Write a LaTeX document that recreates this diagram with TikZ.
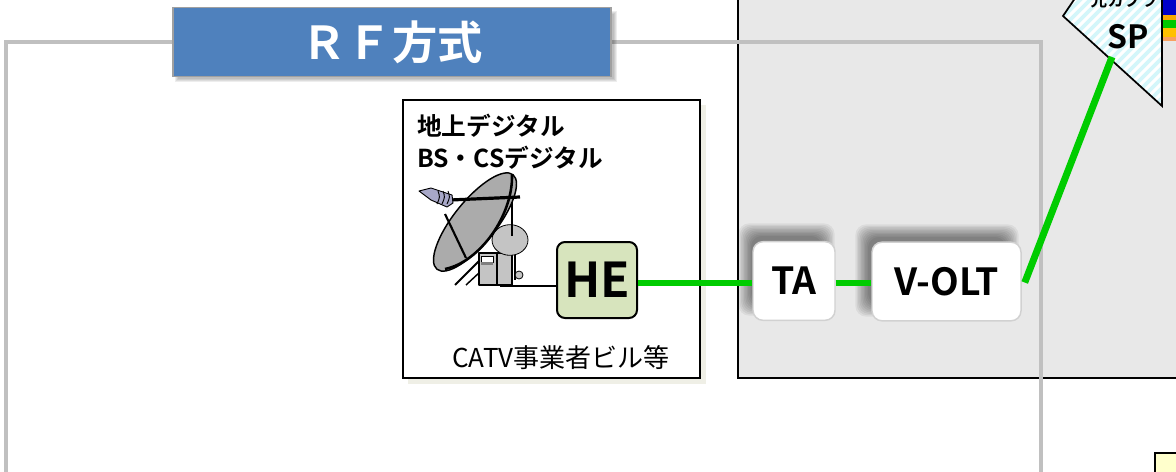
\documentclass[tikz,border=0pt]{standalone}
\usepackage{fontspec}
\setmainfont{Noto Sans CJK JP}[BoldFont={Noto Sans CJK JP Bold}]
\usetikzlibrary{calc}

\definecolor{titleblue}{HTML}{4F81BD}
\definecolor{titleedge}{HTML}{A0A0A0}
\definecolor{framegray}{HTML}{C0C0C0}
\definecolor{zonegray}{HTML}{E8E8E8}
\definecolor{hegreen}{HTML}{D7E4BD}
\definecolor{fibre}{HTML}{00CC00}
\definecolor{dishgray}{HTML}{ABABAB}
\definecolor{postgray}{HTML}{C4C4C4}
\definecolor{hornpurple}{HTML}{A8A8C8}
\definecolor{spstripe}{HTML}{D4F6FA}
\definecolor{boxshade}{HTML}{EFEFE6}
\definecolor{noteyellow}{HTML}{FFFFCC}
\definecolor{bandblue}{HTML}{0000C8}
\definecolor{bandorange}{HTML}{F9A800}
\definecolor{bandgreen}{HTML}{00C800}
\definecolor{bandyellow}{HTML}{FFC000}
\definecolor{bandsalmon}{HTML}{F8A060}

% soft shadow built from stacked translucent rounded rectangles
% #1-#4 corners, #5 corner radius, #6 opacity per layer, #7 layers, #8 growth per layer
\newcommand\softshade[8]{%
  \foreach \k in {0,...,#7}{%
    \fill[black, opacity=#6, rounded corners=#5]
      ({#1-#8*\k},{#2-#8*\k}) rectangle ({#3+#8*\k},{#4+#8*\k});
  }%
}

\tikzset{
  frameline/.style={draw=framegray, line width=2.3pt},
  fibreline/.style={draw=fibre, line width=5.2pt},
  titlebox/.style={draw=titleedge, line width=1.3pt, fill=titleblue,
    minimum width=328.5pt, minimum height=51.75pt, inner sep=0pt,
    text=white, font=\bfseries\fontsize{34}{36}\selectfont},
  hebox/.style={draw=black, line width=1.5pt, fill=hegreen, rounded corners=6pt,
    minimum width=60pt, minimum height=57pt, inner sep=0pt,
    font=\bfseries\fontsize{36}{38}\selectfont},
  unitbox/.style={draw=black!18, line width=1.1pt, fill=white, rounded corners=7.5pt,
    minimum height=59pt, inner sep=0pt,
    font=\bfseries\fontsize{28}{30}\selectfont},
  label/.style={inner sep=0pt, font=\bfseries\fontsize{18.5}{20}\selectfont},
}

\begin{document}
\begin{tikzpicture}[x=0.75pt, y=-0.75pt]
\useasboundingbox (0,0) rectangle (1176,471);
\clip (0,0) rectangle (1176,471);

% head-end building
\fill[boxshade] (408,105) rectangle (706,384);
\draw[fill=white, line width=1pt] (403,100) rectangle (700,378);

% subscriber-side area
\draw[fill=zonegray, line width=1pt] (738,-10) rectangle (1200,378);

% grouping frame
\draw[frameline] (6,490) -- (6,42) -- (1041,42) -- (1041,490);

% title
\softshade{178}{14}{614}{79}{0pt}{0.07}{3}{1}
\node[titlebox] (title) at (392,42) {ＲＦ方式};

% broadcast labels
\node[label, anchor=west] (terr) at (417,126) {地上デジタル};
\node[label, anchor=west] (sat) at (417,158) {BS・CSデジタル};
\node[inner sep=0pt, font=\fontsize{19.5}{21}\selectfont] (bldg) at (561,358) {CATV事業者ビル等};

% antenna
\begin{scope}[line join=round]
  % mount legs and pedestal
  \draw[line width=1.4pt] (455,285) -- (480,260) -- (480,285);
  \draw[line width=1.1pt] (466,285) -- (480,272);
  \draw[fill=postgray, line width=0.8pt] (479,253) rectangle (512,285);
  \draw[fill=white, line width=0.6pt] (481,256) rectangle (493,262);
  \draw[fill=black!50, draw=none] (481,262) rectangle (493,265);
  \draw[line width=0.8pt] (497,252) -- (497,285);
  \draw[line width=0.8pt] (515,248) -- (515,280);
  \draw[fill=postgray, line width=0.6pt] (519,275) circle [radius=3pt];
  % sub-reflector behind the dish
  \draw[fill=postgray, line width=0.6pt] (510,240) ellipse [x radius=13.5pt, y radius=11.5pt];
  \draw[line width=0.8pt] (512,190) -- (512,236);
  % main dish
  \draw[fill=dishgray, line width=1.1pt, rotate around={51.2:(475,222)}]
    (475,222) ellipse [x radius=45.5pt, y radius=16pt];
  \draw[line width=1.9pt] (512,175) .. controls (513,215) and (480,262) .. (445,269);
  % feed strut and arm
  \draw[line width=1.6pt] (445,214) -- (466,258);
  \draw[line width=2.4pt] (450,200) -- (520,197);
  % feed horn
  \draw[fill=hornpurple, line width=0.7pt]
    (419,191) -- (431,188) -- (452,195) -- (453,203) -- (447,207) -- (431,200) -- cycle;
  \foreach \hx in {438,443,448}{\draw[line width=0.7pt] (\hx,191) .. controls (\hx+2,197) .. (\hx-1,204);}
  \coordinate (antbase) at (500,286);
\end{scope}

% equipment shadows
\softshade{751}{236}{822}{303}{8pt}{0.055}{9}{1.4}
\softshade{868}{237}{1006}{304}{8pt}{0.055}{9}{1.4}

% equipment
\node[hebox] (he) at (597,280) {HE};
\node[unitbox, minimum width=61.5pt] (ta) at (794,281) {TA};
\node[unitbox, minimum width=111.75pt] (volt) at (946.5,281.5) {V-OLT};

% optical splitter
\coordinate (spin) at (1112,57);
\begin{scope}
  \clip (1063,16) -- (1162,-130) -- (1162,106) -- cycle;
  \fill[white] (1040,-140) rectangle (1170,120);
  \foreach \s in {840,850,...,1170}{\draw[spstripe, line width=2.8pt] (\s,130) -- ++(260,-260);}
\end{scope}
\draw[line width=1.3pt, line join=miter] (1162,-130) -- (1063,16) -- (1162,106) -- cycle;
\node[inner sep=0pt, font=\bfseries\fontsize{24}{26}\selectfont] (sp) at (1128,37) {SP};
\node[inner sep=0pt, font=\bfseries\fontsize{12.5}{14}\selectfont] (spname) at (1124,0) {光カプラ};

% wiring
\draw[line width=0.8pt] (antbase) -- (antbase -| he.west);
\draw[fibreline] ($(he.east)+(0,3)$) -- ($(ta.west)+(0,2)$);
\draw[fibreline] ($(ta.east)+(0,2)$) -- ($(volt.west)+(0,1.5)$);
\draw[fibreline] ($(volt.east)+(3,1)$) -- (spin);

% colour bands at the splitter ports
\fill[bandblue] (1163,-5) rectangle (1180,15);
\fill[bandorange] (1163,15) rectangle (1180,20);
\fill[bandgreen] (1163,20) rectangle (1180,28);
\fill[bandyellow] (1163,28) rectangle (1180,37);
\fill[bandsalmon] (1163,37) rectangle (1180,41);

% note box
\draw[fill=noteyellow, line width=1.5pt] (1155,453) rectangle (1200,500);
\end{tikzpicture}
\end{document}
